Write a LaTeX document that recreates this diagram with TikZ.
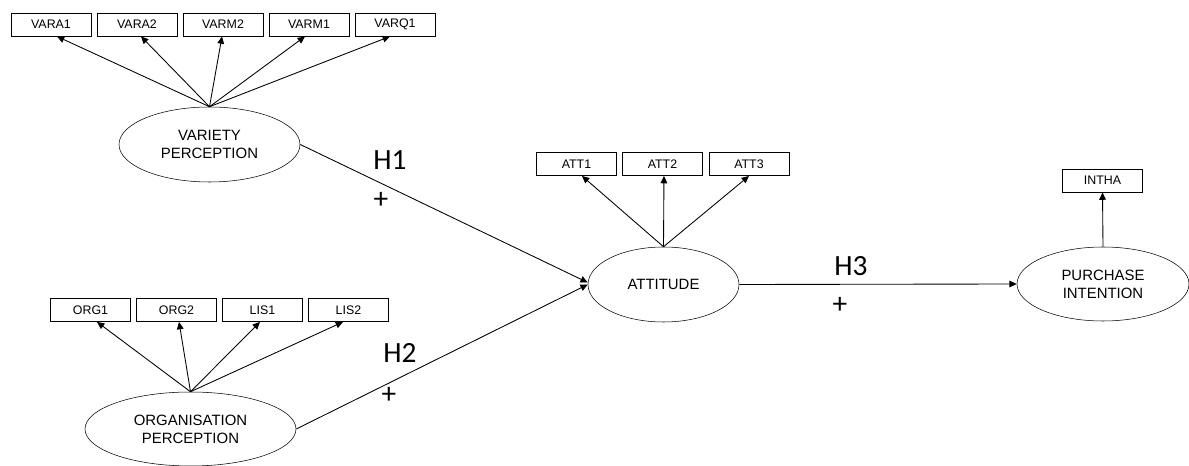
\documentclass[tikz,border=0pt]{standalone}
\usepackage{fontspec}
\setmainfont{Liberation Sans}
\newfontfamily\hfont{Carlito}
\usetikzlibrary{shapes.geometric,arrows.meta}

\tikzset{
  ind/.style={draw, rectangle, inner sep=0pt, minimum width=60pt, minimum height=17.5pt, font=\fontsize{9.3}{11}\selectfont},
  lat/.style={draw, ellipse, inner sep=0pt, align=center, font=\fontsize{11.2}{13.3}\selectfont},
  load/.style={-{Triangle[length=5.5pt,width=5pt]}, line width=0.65pt},
  hyp/.style={font=\hfont\fontsize{22}{24}\selectfont, inner sep=0pt},
}

\begin{document}
\begin{tikzpicture}[x=0.75pt,y=0.75pt,yscale=-1,xscale=1]
    \useasboundingbox (0,0) rectangle (1189,466);

    % Indicator boxes
    \node [ind] (vara1) at (51,24.5) {VARA1};
    \node [ind] (vara2) at (137,24.5) {VARA2};
    \node [ind] (varm2) at (223,24.5) {VARM2};
    \node [ind] (varm1) at (309,24.5) {VARM1};
    \node [ind] (varq1) at (395,24.5) {VARQ1};

    \node [ind] (org1) at (90.5,310) {ORG1};
    \node [ind] (org2) at (176.5,310) {ORG2};
    \node [ind] (lis1) at (262.5,310) {LIS1};
    \node [ind] (lis2) at (348.5,310) {LIS2};

    \node [ind] (att1) at (576.5,164) {ATT1};
    \node [ind] (att2) at (662.5,164) {ATT2};
    \node [ind] (att3) at (749,164) {ATT3};

    \node [ind] (intha) at (1102.5,180.5) {INTHA};

    % Latent variables
    \node [lat, minimum width=135.75pt, minimum height=56.25pt] (vp) at (209.5,144.5) {VARIETY\\PERCEPTION};
    \node [lat, minimum width=158.25pt, minimum height=55.5pt] (op) at (190.5,429) {ORGANISATION\\PERCEPTION};
    \node [lat, minimum width=113.25pt, minimum height=56.25pt] (att) at (663.5,284.5) {ATTITUDE};
    \node [lat, minimum width=129pt, minimum height=55.5pt] (pi) at (1103,284) {PURCHASE\\INTENTION};

    % Loadings
    \draw [load] (vp.north) -- ([xshift=4.5pt]vara1.south);
    \draw [load] (vp.north) -- ([xshift=3pt]vara2.south);
    \draw [load] (vp.north) -- ([xshift=-0.75pt]varm2.south);
    \draw [load] (vp.north) -- ([xshift=-3pt]varm1.south);
    \draw [load] (vp.north) -- ([xshift=-3.75pt]varq1.south);

    \draw [load] (op.north) -- ([xshift=4.9pt]org1.south);
    \draw [load] (op.north) -- ([xshift=1.9pt]org2.south);
    \draw [load] (op.north) -- ([xshift=-1.9pt]lis1.south);
    \draw [load] (op.north) -- ([xshift=-4.1pt]lis2.south);

    \draw [load] (att.north) -- ([xshift=4.1pt]att1.south);
    \draw [load] (att.north) -- ([xshift=1.1pt]att2.south);
    \draw [load] (att.north) -- (att3.south);

    \draw [load] (pi.north) -- (intha.south);

    % Paths
    \draw [load] (vp.east) -- ([yshift=-1.5pt]att.west);
    \draw [load] (op.east) -- (att.west);
    \draw [load] (att.east) -- (pi.west);

    % Text Node
    \node [hyp] (h1) at (390,160) {H1};
    \node [hyp] (p1) at (381,200) {+};
    \node [hyp] (h2) at (400,353) {H2};
    \node [hyp] (p2) at (389,395) {+};
    \node [hyp] (h3) at (851,266) {H3};
    \node [hyp] (p3) at (840,305) {+};

\end{tikzpicture}
\end{document}
